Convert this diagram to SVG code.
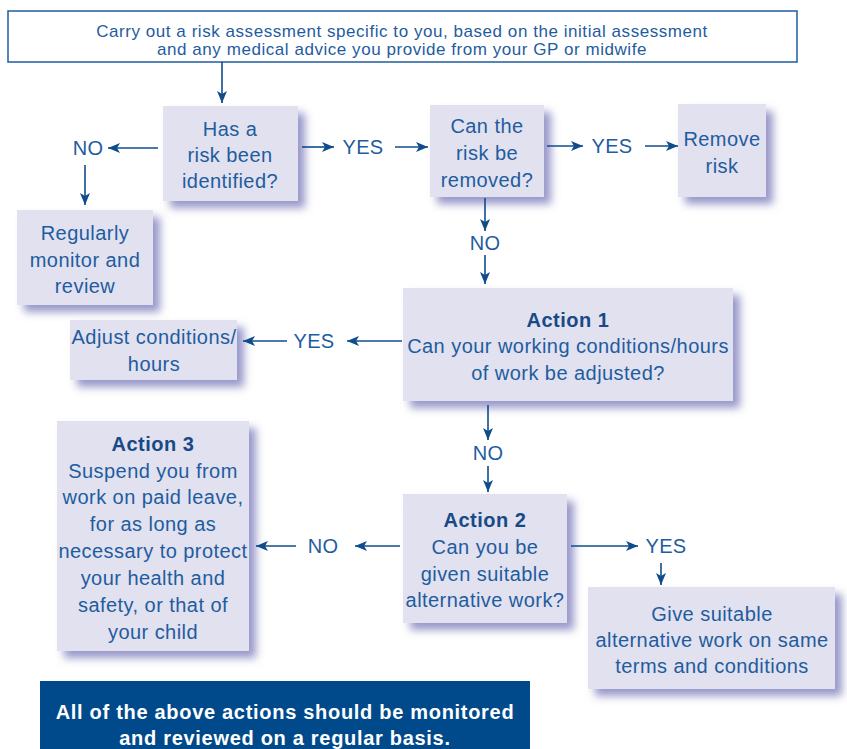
<svg xmlns="http://www.w3.org/2000/svg" width="847" height="749" viewBox="0 0 847 749">
<defs>
<filter id="sh" x="-20%" y="-20%" width="150%" height="150%">
<feGaussianBlur in="SourceAlpha" stdDeviation="4" result="b"/>
<feOffset in="b" dx="7" dy="7" result="o"/>
<feFlood flood-color="#8c8cc4" flood-opacity="0.9"/>
<feComposite in2="o" operator="in" result="s"/>
<feMerge><feMergeNode in="s"/><feMergeNode in="SourceGraphic"/></feMerge>
</filter>
<marker id="ah" viewBox="0 0 12 10" refX="12" refY="5" markerWidth="12" markerHeight="10" markerUnits="userSpaceOnUse" orient="auto">
<path d="M0,0 L12,5 L0,10 L3,5 Z" fill="#0f4c8c"/>
</marker>
</defs>
<style>
.box{fill:#e1e1ef;filter:url(#sh)}
.t{font-family:"Liberation Sans",Arial,sans-serif;font-size:20px;letter-spacing:0.45px;fill:#1f5c9f;text-anchor:middle}
.s{font-size:17px;letter-spacing:0.55px}
.b{font-weight:bold;fill:#174a86;letter-spacing:0.5px}
.w{fill:#ffffff;letter-spacing:0.7px}
.lbl{font-family:"Liberation Sans",Arial,sans-serif;font-size:20px;letter-spacing:0.3px;fill:#1f5c9f;text-anchor:middle}
.c{stroke:#0f4c8c;stroke-width:1.6;fill:none;marker-end:url(#ah)}
</style>
<rect width="847" height="749" fill="#ffffff"/>
<g id="start">
<rect x="8" y="11" width="789" height="51" fill="#ffffff" stroke="#1f5c9f" stroke-width="1.5"/>
<text class="t s" x="402" y="37">Carry out a risk assessment specific to you, based on the initial assessment</text>
<text class="t s" x="402" y="55">and any medical advice you provide from your GP or midwife</text>
</g>
<g id="identified">
<rect class="box" x="163" y="106" width="135" height="95"/>
<text class="t" x="230" y="136">Has a</text>
<text class="t" x="230" y="162">risk been</text>
<text class="t" x="230" y="188">identified?</text>
</g>
<g id="monitor">
<rect class="box" x="17" y="210" width="136" height="95"/>
<text class="t" x="85" y="240">Regularly</text>
<text class="t" x="85" y="267">monitor and</text>
<text class="t" x="85" y="293">review</text>
</g>
<g id="removable">
<rect class="box" x="430" y="105" width="114" height="92"/>
<text class="t" x="487" y="133">Can the</text>
<text class="t" x="487" y="160">risk be</text>
<text class="t" x="487" y="187">removed?</text>
</g>
<g id="remove">
<rect class="box" x="678" y="104" width="88" height="93"/>
<text class="t" x="722" y="146">Remove</text>
<text class="t" x="722" y="173">risk</text>
</g>
<g id="action1">
<rect class="box" x="403" y="288" width="330" height="113"/>
<text class="t b" x="568" y="327">Action 1</text>
<text class="t" x="568" y="353">Can your working conditions/hours</text>
<text class="t" x="568" y="380">of work be adjusted?</text>
</g>
<g id="adjust">
<rect class="box" x="70" y="320" width="167" height="60"/>
<text class="t" x="154" y="344">Adjust conditions/</text>
<text class="t" x="154" y="371">hours</text>
</g>
<g id="action2">
<rect class="box" x="403" y="494" width="164" height="129"/>
<text class="t b" x="485" y="527">Action 2</text>
<text class="t" x="485" y="554">Can you be</text>
<text class="t" x="485" y="581">given suitable</text>
<text class="t" x="485" y="607">alternative work?</text>
</g>
<g id="action3">
<rect class="box" x="57" y="421" width="192" height="230"/>
<text class="t b" x="153" y="451">Action 3</text>
<text class="t" x="153" y="478">Suspend you from</text>
<text class="t" x="153" y="504">work on paid leave,</text>
<text class="t" x="153" y="531">for as long as</text>
<text class="t" x="153" y="558">necessary to protect</text>
<text class="t" x="153" y="585">your health and</text>
<text class="t" x="153" y="612">safety, or that of</text>
<text class="t" x="153" y="639">your child</text>
</g>
<g id="alternative">
<rect class="box" x="588" y="587" width="247" height="102"/>
<text class="t" x="712" y="621">Give suitable</text>
<text class="t" x="712" y="647">alternative work on same</text>
<text class="t" x="712" y="673">terms and conditions</text>
</g>
<g id="note">
<rect x="40" y="681" width="490" height="70" fill="#004a8b"/>
<text class="t b w" x="285" y="719">All of the above actions should be monitored</text>
<text class="t b w" x="285" y="745">and reviewed on a regular basis.</text>
</g>
<g id="connectors">
<path class="c" d="M222,62 V103"/>
<path class="c" d="M158,148 H108"/>
<text class="lbl" x="88" y="155">NO</text>
<path class="c" d="M85,165 V205"/>
<path class="c" d="M302,147 H334"/>
<text class="lbl" x="363" y="154">YES</text>
<path class="c" d="M395,147 H428"/>
<path class="c" d="M547,146 H583"/>
<text class="lbl" x="612" y="153">YES</text>
<path class="c" d="M645,146 H678"/>
<path class="c" d="M485,198 V231"/>
<text class="lbl" x="485" y="250">NO</text>
<path class="c" d="M485,255 V284"/>
<path class="c" d="M402,341 H347"/>
<text class="lbl" x="314" y="348">YES</text>
<path class="c" d="M287,341 H243"/>
<path class="c" d="M488,405 V440"/>
<text class="lbl" x="488" y="460">NO</text>
<path class="c" d="M488,466 V492"/>
<path class="c" d="M400,546 H355"/>
<text class="lbl" x="323" y="553">NO</text>
<path class="c" d="M296,546 H256"/>
<path class="c" d="M571,546 H638"/>
<text class="lbl" x="666" y="553">YES</text>
<path class="c" d="M661,563 V585"/>
</g>
</svg>
